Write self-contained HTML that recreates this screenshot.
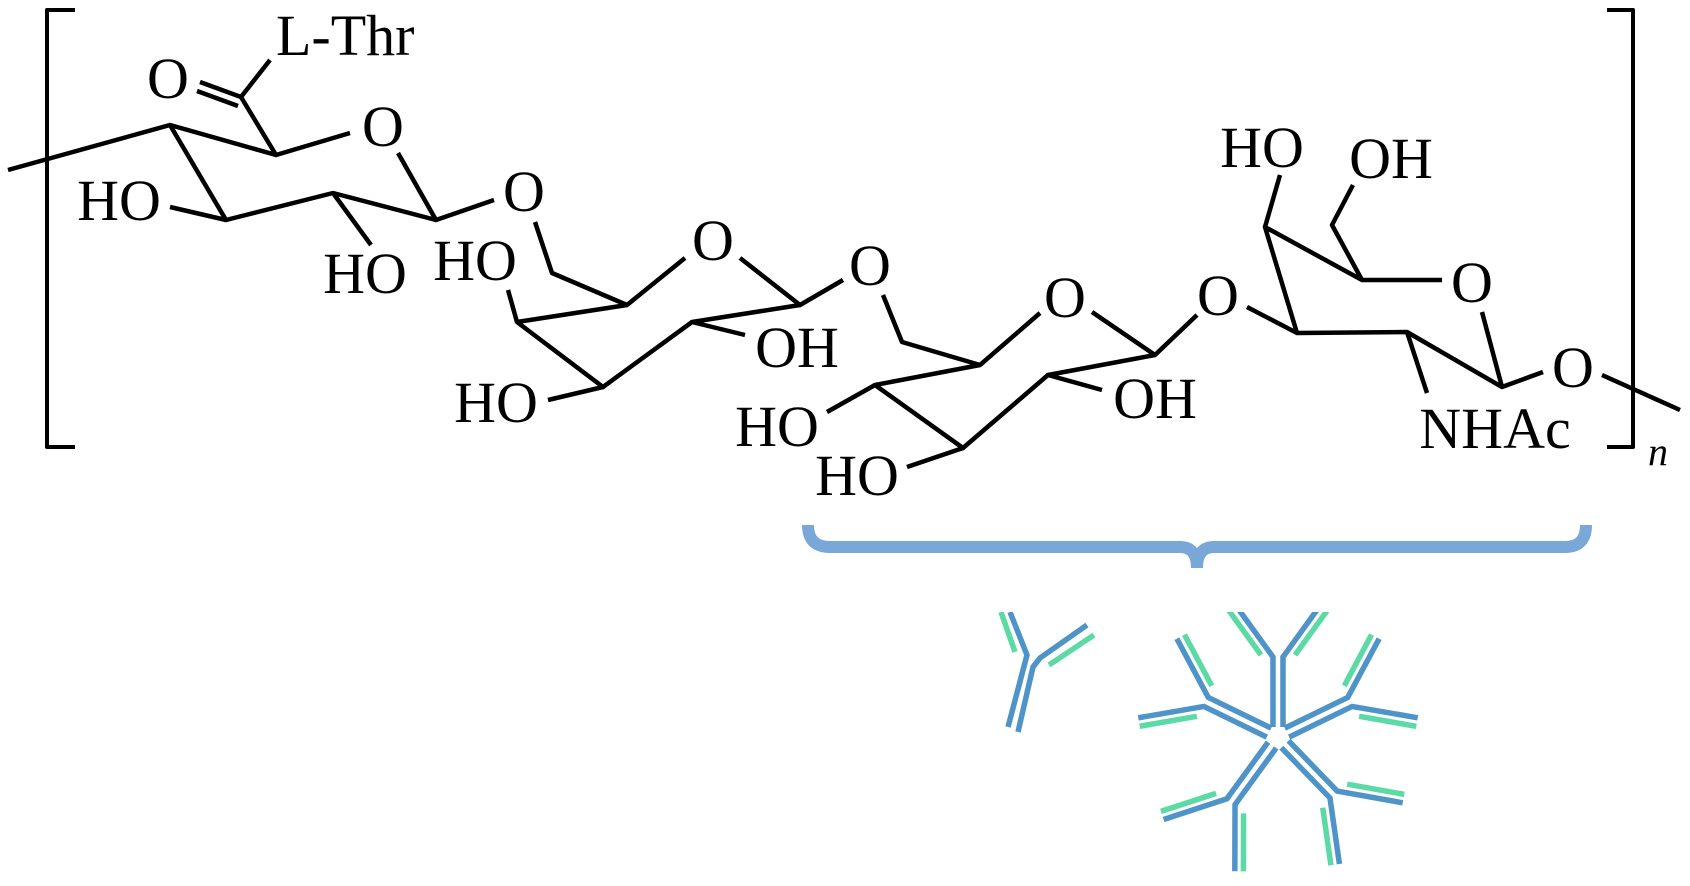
<!DOCTYPE html>
<html><head><meta charset="utf-8"><style>
html,body{margin:0;padding:0;background:#fff;}
svg{display:block;}
text{font-family:"Liberation Serif",serif;font-size:58px;fill:#000;text-anchor:middle;}
</style></head><body>
<svg width="1690" height="886" viewBox="0 0 1690 886" xmlns="http://www.w3.org/2000/svg">
<defs>
<clipPath id="c"><rect x="0" y="612" width="1690" height="274"/></clipPath>
<g id="Y">
<path d="M-5,-10 L-5,-80 L-44,-134" fill="none" stroke="#4f94c9" stroke-width="5.5"/>
<path d="M5,-10 L5,-80 L44,-134" fill="none" stroke="#4f94c9" stroke-width="5.5"/>
<path d="M-10,-87 L-44,-134" fill="none" stroke="#5cdaa5" stroke-width="5.5" transform="translate(-7,5)"/>
<path d="M10,-87 L44,-134" fill="none" stroke="#5cdaa5" stroke-width="5.5" transform="translate(7,5)"/>
</g>
</defs>
<g fill="none" stroke="#000" stroke-width="4.5" stroke-linejoin="round">
<path d="M75,10 L47,10 L47,447 L75,447" stroke-width="4"/>
<path d="M1607,10 L1633,10 L1633,447 L1607,447" stroke-width="4"/>
<path d="M8,170 L170,125 L276,155 L350,133"/>
<path d="M398,153 L436,220 L494,200"/>
<path d="M436,220 L333,193 L226,220 L170,125"/>
<path d="M226,220 L170,207"/>
<path d="M333,193 L371,245"/>
<path d="M276,155 L241,97 L270,60"/>
<path d="M241,97 L200,82"/>
<path d="M238,106 L197,91"/>
<path d="M535,222 L552,273 L627,305 L685,258"/>
<path d="M740,258 L800,305 L843,280"/>
<path d="M800,305 L692,322 L603,387 L517,322 L627,305"/>
<path d="M517,322 L508,290"/>
<path d="M692,322 L745,335"/>
<path d="M603,387 L548,400"/>
<path d="M883,295 L902,342 L980,365 L1040,313"/>
<path d="M1092,312 L1155,355 L1197,315"/>
<path d="M1155,355 L1048,375 L963,448 L875,385 L980,365"/>
<path d="M875,385 L827,412"/>
<path d="M1048,375 L1102,390"/>
<path d="M963,448 L907,467"/>
<path d="M1247,307 L1297,333 L1407,332 L1502,387 L1482,312"/>
<path d="M1442,280 L1362,280 L1265,227 L1297,333"/>
<path d="M1265,227 L1280,175"/>
<path d="M1362,280 L1332,225 L1353,185"/>
<path d="M1407,332 L1427,393"/>
<path d="M1502,387 L1543,372"/>
<path d="M1602,375 L1680,410"/>
</g>
<text x="276" y="55" style="text-anchor:start">L-Thr</text>
<text x="168" y="98">O</text>
<text x="383" y="146">O</text>
<text x="524" y="211">O</text>
<text x="119" y="220">HO</text>
<text x="365" y="293">HO</text>
<text x="475" y="280">HO</text>
<text x="713" y="260">O</text>
<text x="797" y="367">OH</text>
<text x="496" y="422">HO</text>
<text x="870" y="285">O</text>
<text x="1065" y="317">O</text>
<text x="1155" y="418">OH</text>
<text x="777" y="446">HO</text>
<text x="857" y="495">HO</text>
<text x="1218" y="315">O</text>
<text x="1262" y="167">HO</text>
<text x="1391" y="178">OH</text>
<text x="1472" y="302">O</text>
<text x="1495" y="448">NHAc</text>
<text x="1573" y="387">O</text>
<text x="1658" y="465" style="font-style:italic;font-size:40px">n</text>
<path d="M808,525 Q808,547 830,547 L1180,547 Q1197,547 1197,568 Q1197,547 1214,547 L1565,547 Q1586,547 1586,525" fill="none" stroke="#79a7d8" stroke-width="12"/>
<g clip-path="url(#c)">
<g fill="none" stroke-width="5.5">
<path d="M1010,612 L1027,655 L1008,727" stroke="#4f94c9"/>
<path d="M1018,732 L1033,667 L1040,658 L1087,625" stroke="#4f94c9"/>
<path d="M1001,612 L1015,652" stroke="#5cdaa5"/>
<path d="M1049,665 L1094,635" stroke="#5cdaa5"/>
</g>
<g transform="translate(1278,737)">
<use href="#Y"/>
<use href="#Y" transform="rotate(64)"/>
<use href="#Y" transform="rotate(136)"/>
<use href="#Y" transform="rotate(216)"/>
<use href="#Y" transform="rotate(296)"/>
</g>
</g>
</svg>
</body></html>
